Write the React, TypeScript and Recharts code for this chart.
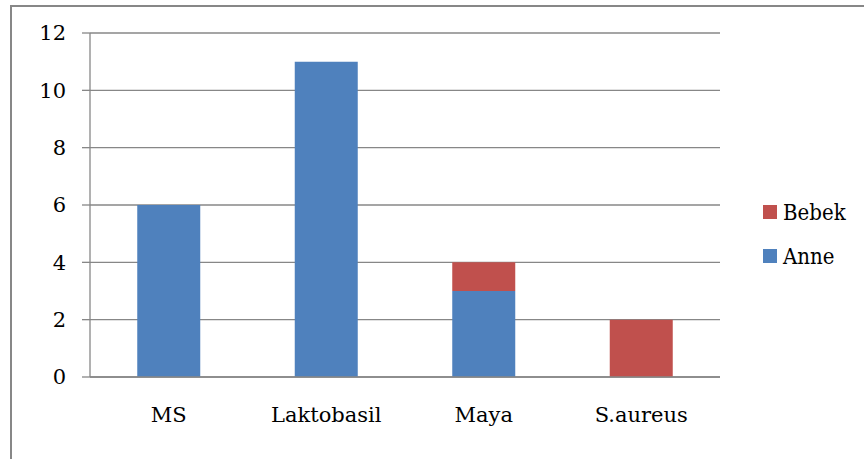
import { BarChart, Bar, XAxis, YAxis, CartesianGrid, Legend } from 'recharts'

const categories = ['MS', 'Laktobasil', 'Maya', 'S.aureus']
const anne = [6, 11, 3, 0]
const bebek = [0, 0, 1, 2]
const yTicks = [0, 2, 4, 6, 8, 10, 12]
const edgeTicks = [0, 1, 2, 3, 4]

const data = categories.map((name, i) => ({ name, Anne: anne[i], Bebek: bebek[i] }))

const GRAY = '#878787'
const FONT = "'DejaVu Serif', serif"

function LegendBox({ payload }: any) {
  const items = [...(payload || [])].reverse()
  return (
    <div style={{ fontFamily: "'DejaVu Serif Condensed', 'DejaVu Serif', serif", fontSize: 22, color: '#000' }}>
      {items.map((p: any) => (
        <div key={p.value} style={{ display: 'flex', alignItems: 'center', height: 44 }}>
          <span style={{ width: 14, height: 14, background: p.color, marginRight: 6, display: 'inline-block' }} />
          <span>{p.value}</span>
        </div>
      ))}
    </div>
  )
}

export default function App() {
  return (
    <div style={{ position: 'absolute', left: 0, top: 0, width: 864, height: 459, background: '#fff', overflow: 'hidden' }}>
      <div
        style={{
          position: 'absolute',
          left: 10,
          top: 5,
          width: 900,
          height: 500,
          borderTop: `2px solid ${GRAY}`,
          borderLeft: `2px solid ${GRAY}`,
        }}
      />
      <BarChart
        width={864}
        height={459}
        data={data}
        margin={{ top: 33, right: 144, bottom: 32, left: 30 }}
        barCategoryGap="30%"
        style={{ position: 'absolute', left: 0, top: 0 }}
      >
        <CartesianGrid vertical={false} stroke={GRAY} strokeWidth={1.3} />
        {/* tick marks sitting on the category boundaries */}
        <XAxis
          xAxisId="edges"
          type="number"
          domain={[0, 4]}
          ticks={edgeTicks}
          height={0}
          axisLine={false}
          tick={false}
          tickLine={{ stroke: GRAY, strokeWidth: 1.3 }}
          tickSize={7}
        />
        <XAxis
          dataKey="name"
          height={50}
          axisLine={{ stroke: GRAY, strokeWidth: 1.3 }}
          tickLine={false}
          tickMargin={24}
          tick={{ fill: '#000', fontSize: 21, fontFamily: FONT }}
        />
        <YAxis
          domain={[0, 12]}
          ticks={yTicks}
          width={60}
          axisLine={{ stroke: GRAY, strokeWidth: 1.3 }}
          tickLine={{ stroke: GRAY, strokeWidth: 1.3 }}
          tickSize={8}
          tickMargin={16}
          tick={{ fill: '#000', fontSize: 21, fontFamily: FONT }}
        />
        <Legend
          layout="horizontal"
          align="center"
          verticalAlign="middle"
          content={<LegendBox />}
          wrapperStyle={{ left: 763, top: 190, width: 100 }}
        />
        <Bar dataKey="Anne" stackId="a" fill="#4F81BD" isAnimationActive={false} />
        <Bar dataKey="Bebek" stackId="a" fill="#C0504D" isAnimationActive={false} />
      </BarChart>
    </div>
  )
}
